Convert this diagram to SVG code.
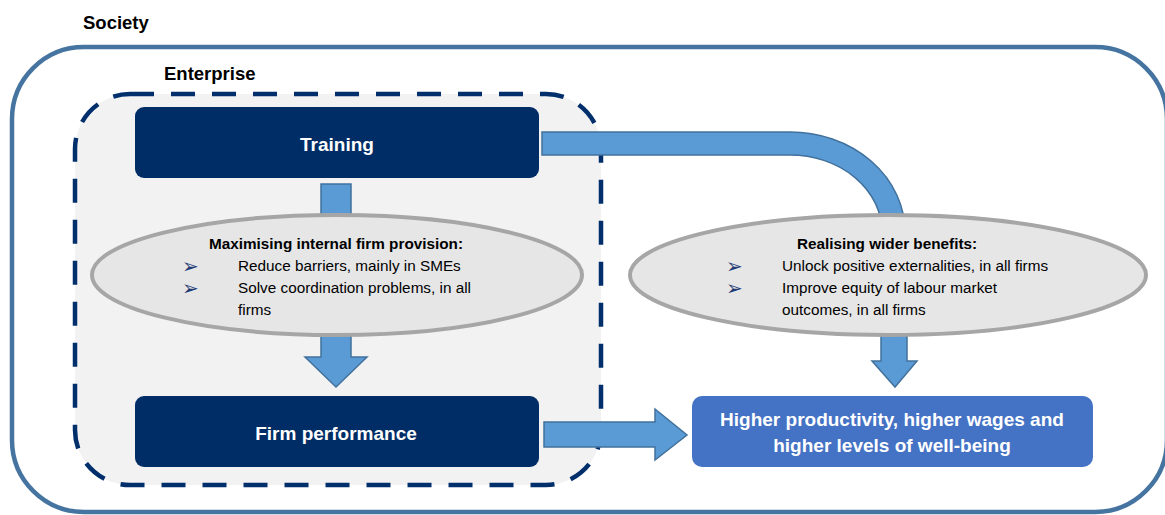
<svg xmlns="http://www.w3.org/2000/svg" width="1165" height="515" viewBox="0 0 1165 515">
<style>
.lbl{font-family:"Liberation Sans",Arial,sans-serif;font-weight:bold;fill:#000;font-size:18.5px}
.box{fill:#002d66}
.boxt{font-family:"Liberation Sans",Arial,sans-serif;font-weight:bold;fill:#fff;font-size:19px;text-anchor:middle}
.ell{fill:#e6e6e6;stroke:#a6a6a6;stroke-width:4}
.et{font-family:"Liberation Sans",Arial,sans-serif;font-size:15.3px;fill:#000}
.eh{font-weight:bold;text-anchor:middle}
.bul{font-family:"DejaVu Sans",sans-serif;font-size:20px;fill:#1f3b73}
.arr{fill:#5b9bd5;stroke:#41719c;stroke-width:1.5}
</style>
<rect width="1165" height="515" fill="#fff"/>
<g id="society">
<rect x="12" y="47" width="1155" height="465" rx="72" ry="72" fill="#fff" stroke="#4674a0" stroke-width="4.5"/>
<text class="lbl" x="83" y="29">Society</text>
</g>
<g id="enterprise">
<rect x="75" y="94" width="526" height="391" rx="55" ry="55" fill="#f2f2f2" stroke="#002f6c" stroke-width="4.5" stroke-dasharray="24 17"/>
<text class="lbl" x="164" y="80">Enterprise</text>
</g>
<g id="connectors">
<path class="arr" d="M542,132 H790 A115,100 0 0 1 905,232 L905,250 L882,250 L882,232 A92,77 0 0 0 790,155 H542 Z"/>
<rect class="arr" x="321" y="184" width="30" height="45"/>
<polygon class="arr" points="321,330 351,330 351,357 367,357 336,387 305,357 321,357"/>
<polygon class="arr" points="881,330 907,330 907,361 917,361 895,387 872,361 881,361"/>
<polygon class="arr" points="544,422 655,422 655,409 687,435 655,460 655,447 544,447"/>
</g>
<g id="training">
<rect class="box" x="135" y="107" width="404" height="71" rx="9" ry="9"/>
<text class="boxt" x="337" y="151">Training</text>
</g>
<g id="internal">
<ellipse class="ell" cx="337" cy="275" rx="245" ry="60"/>
<text class="et eh" x="336" y="249">Maximising internal firm provision:</text>
<text class="bul" x="182" y="273">➢</text>
<text class="bul" x="182" y="295">➢</text>
<text class="et" x="238" y="271">Reduce barriers, mainly in SMEs</text>
<text class="et" x="238" y="293">Solve coordination problems, in all</text>
<text class="et" x="238" y="315">firms</text>
</g>
<g id="wider">
<ellipse class="ell" cx="888" cy="275" rx="258" ry="60"/>
<text class="et eh" x="887" y="249">Realising wider benefits:</text>
<text class="bul" x="726" y="273">➢</text>
<text class="bul" x="726" y="295">➢</text>
<text class="et" x="782" y="271">Unlock positive externalities, in all firms</text>
<text class="et" x="782" y="293">Improve equity of labour market</text>
<text class="et" x="782" y="315">outcomes, in all firms</text>
</g>
<g id="firm">
<rect class="box" x="135" y="396" width="404" height="71" rx="9" ry="9"/>
<text class="boxt" x="336" y="440">Firm performance</text>
</g>
<g id="outcome">
<rect x="692" y="396" width="401" height="71" rx="10" ry="10" fill="#4472c4"/>
<text class="boxt" x="892" y="426">Higher productivity, higher wages and</text>
<text class="boxt" x="892" y="452">higher levels of well-being</text>
</g>
</svg>
